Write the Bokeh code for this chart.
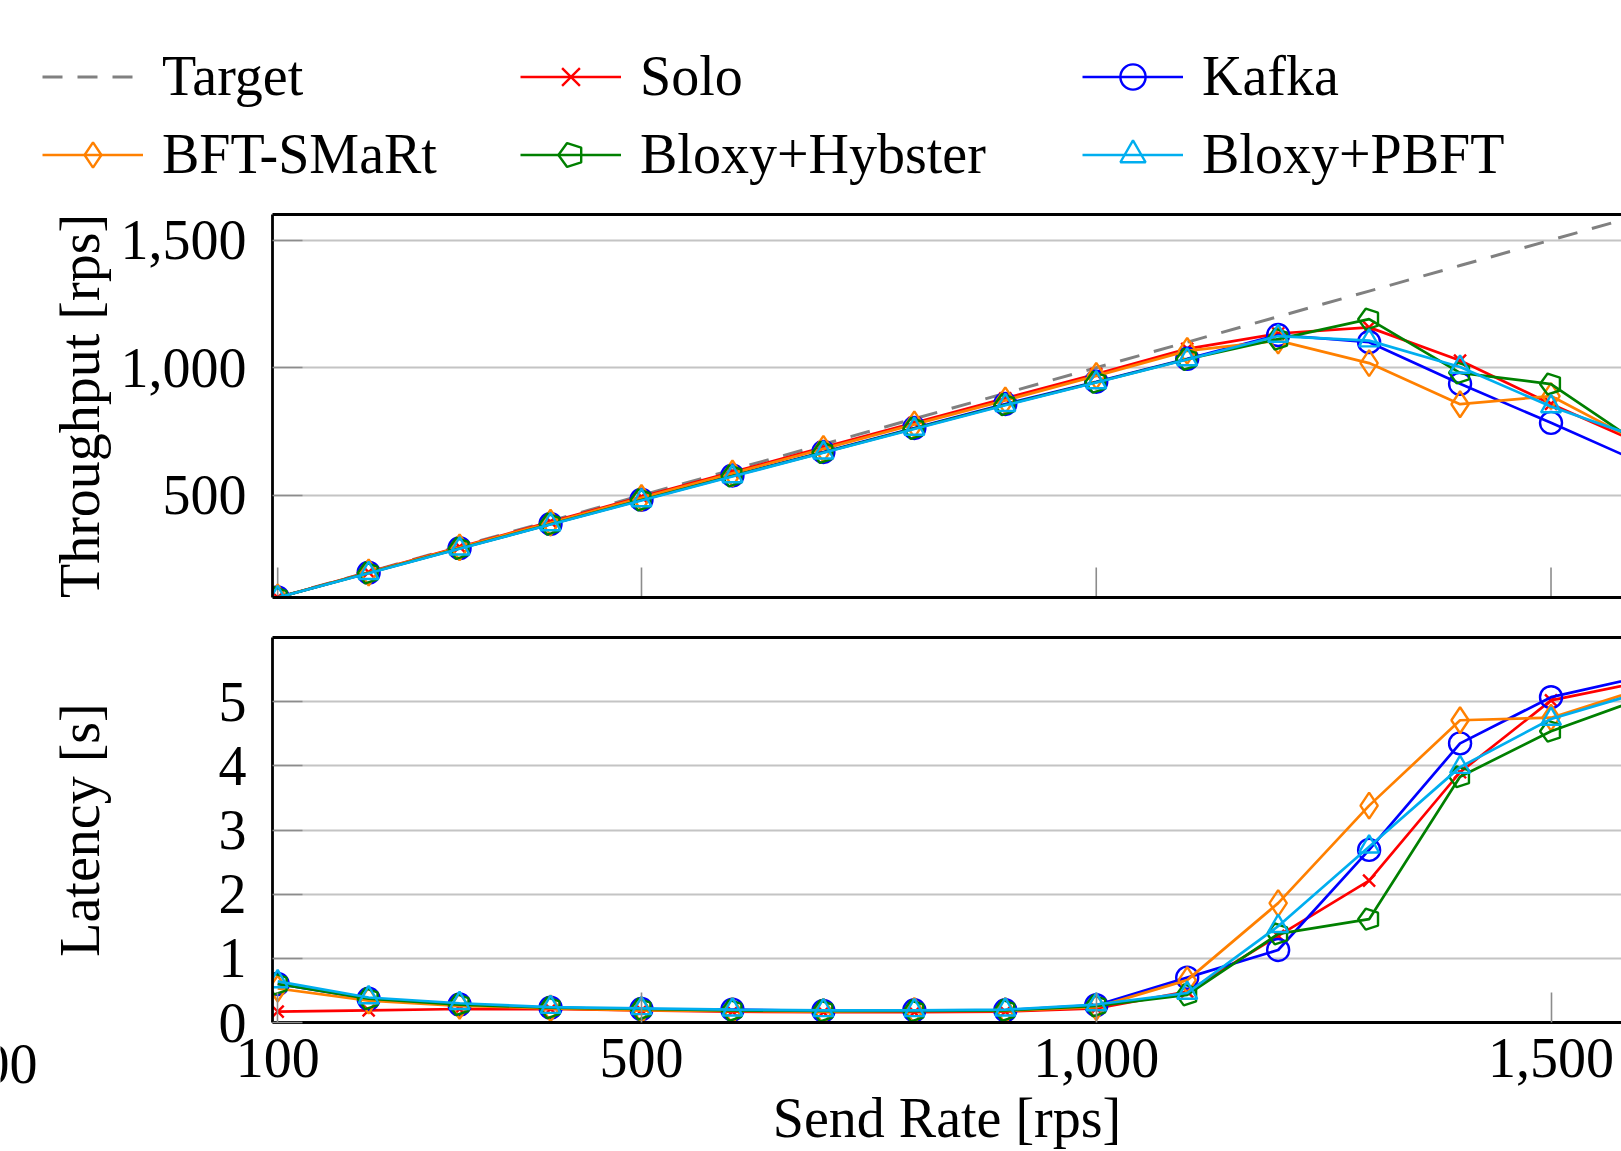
import numpy as np
from bokeh.plotting import figure
from bokeh.models import (ColumnDataSource, Range1d, FixedTicker, NumeralTickFormatter,
                          LinearAxis, Legend, LegendItem, Label)
from bokeh.layouts import column, row
from bokeh.embed import file_html
from bokeh.resources import INLINE
import bokeh.models as bm

# ---------------- data ----------------
send_rate = [100, 200, 300, 400, 500, 600, 700, 800, 900, 1000, 1100, 1200, 1300, 1400, 1500, 1600]
target    = [100, 200, 300, 400, 500, 600, 700, 800, 900, 1000, 1100, 1200, 1300, 1400, 1500, 1600]

tp_solo    = [100, 199, 298, 396, 494, 591, 688, 784, 880, 975, 1074, 1134, 1158, 1028, 858, 700]
tp_kafka   = [100, 197, 293, 388, 483, 578, 670, 764, 858, 945, 1035, 1128, 1100, 937, 784, 626]
tp_bft     = [100, 198, 296, 393, 490, 586, 682, 778, 872, 968, 1066, 1106, 1018, 857, 889, 702]
tp_hybster = [100, 196, 292, 387, 482, 576, 668, 762, 855, 943, 1033, 1112, 1190, 980, 936, 695]
tp_pbft    = [100, 195, 291, 386, 480, 574, 667, 760, 853, 942, 1032, 1124, 1106, 1003, 848, 722]

lat_solo    = [0.17, 0.19, 0.21, 0.21, 0.19, 0.17, 0.16, 0.16, 0.17, 0.22, 0.48, 1.35, 2.21, 3.90, 5.02, 5.31]
lat_kafka   = [0.60, 0.37, 0.28, 0.23, 0.21, 0.20, 0.18, 0.19, 0.19, 0.27, 0.70, 1.13, 2.69, 4.35, 5.07, 5.39]
lat_bft     = [0.53, 0.34, 0.26, 0.22, 0.19, 0.18, 0.17, 0.18, 0.18, 0.24, 0.66, 1.86, 3.38, 4.71, 4.75, 5.20]
lat_hybster = [0.60, 0.37, 0.28, 0.23, 0.21, 0.19, 0.18, 0.18, 0.19, 0.26, 0.43, 1.38, 1.61, 3.83, 4.54, 5.05]
lat_pbft    = [0.64, 0.39, 0.30, 0.24, 0.22, 0.20, 0.19, 0.19, 0.20, 0.28, 0.46, 1.50, 2.74, 3.98, 4.73, 5.15]

series_names = ["Solo", "Kafka", "BFT-SMaRt", "Bloxy+Hybster", "Bloxy+PBFT"]
x_ticks = [100, 500, 1000, 1500]
tp_ticks = [500, 1000, 1500]
lat_ticks = [0, 1, 2, 3, 4, 5]
x_lim = (94.3, 1577.5)
tp_lim = (100, 1600)
lat_lim = (0, 6)
cut_label = "00"   # fragment of a neighbouring panel's tick label, visible at the left edge

# ---------------- style ----------------
FONT = "Liberation Serif"
FS = "56px"
W = 1621
LEG_H = 196
TOP_H = 421
BOT_H = 1151 - LEG_H - TOP_H
CUT_W = 40
GRID = "#c4c4c4"
TICK = "#8c8c8c"
LW = 2.7
FRAME_W = 2.8

colors = {"Solo": "#ff0000", "Kafka": "#0000ff", "BFT-SMaRt": "#ff8000",
          "Bloxy+Hybster": "#008000", "Bloxy+PBFT": "#00aeef"}
markers = {"Solo": ("x", 17), "Kafka": ("circle", 22), "BFT-SMaRt": ("diamond", 26),
           "Bloxy+Hybster": ("pentagon", 11), "Bloxy+PBFT": ("triangle", 20)}

x_range = Range1d(*x_lim)


def empty_axis():
    return LinearAxis(ticker=FixedTicker(ticks=[]), axis_line_color="black",
                      axis_line_width=FRAME_W, major_tick_line_color=None,
                      minor_tick_line_color=None, major_tick_in=0, major_tick_out=0)


def style_fig(p, yticks, show_xlabels):
    p.outline_line_color = None
    p.xgrid.grid_line_color = None
    p.ygrid.grid_line_color = GRID
    p.ygrid.grid_line_width = 2
    for ax in p.xaxis:
        ax.ticker = FixedTicker(ticks=x_ticks if show_xlabels else [])
        ax.formatter = NumeralTickFormatter(format="0,0")
    for ax in p.yaxis:
        ax.ticker = FixedTicker(ticks=yticks)
        ax.formatter = NumeralTickFormatter(format="0,0")
    for ax in list(p.xaxis) + list(p.yaxis):
        ax.axis_line_color = "black"
        ax.axis_line_width = FRAME_W
        ax.major_tick_in = 30
        ax.major_tick_out = 0
        ax.major_tick_line_color = TICK
        ax.major_tick_line_width = 1.6
        ax.minor_tick_line_color = None
        ax.major_label_text_font = FONT
        ax.major_label_text_font_size = FS
        ax.major_label_text_color = "black"
        ax.axis_label_text_font = FONT
        ax.axis_label_text_font_size = FS
        ax.axis_label_text_font_style = "normal"
        ax.axis_label_text_color = "black"
    for ax in p.yaxis:
        ax.major_label_standoff = 26
    p.add_layout(empty_axis(), "above")


def marker_renderer(p, src, name):
    c = colors[name]
    mk, sz = markers[name]
    if mk == "pentagon" and hasattr(bm, "Ngon"):
        try:
            g = bm.Ngon(x="x", y="y", radius=sz, radius_units="screen", n=5, angle=np.pi / 2,
                        fill_color=None, line_color=c, line_width=2.4)
            return p.add_glyph(src, g)
        except Exception:
            pass
    m = "hex" if mk == "pentagon" else mk
    s = 2 * sz if mk == "pentagon" else sz
    return p.scatter("x", "y", source=src, marker=m, size=s, fill_color=None,
                     line_color=c, line_width=2.4)


def add_series(p, src, name):
    ln = p.line("x", "y", source=src, line_color=colors[name], line_width=LW)
    mr = marker_renderer(p, src, name)
    return [ln, mr]


tp_src = {n: ColumnDataSource(dict(x=send_rate, y=ys)) for n, ys in
          zip(series_names, [tp_solo, tp_kafka, tp_bft, tp_hybster, tp_pbft])}
lat_src = {n: ColumnDataSource(dict(x=send_rate, y=ys)) for n, ys in
           zip(series_names, [lat_solo, lat_kafka, lat_bft, lat_hybster, lat_pbft])}
tgt_src = ColumnDataSource(dict(x=send_rate, y=target))

# ---------------- legend strip ----------------
# same sources as the plots; the strip's ranges keep the data itself out of view
leg = figure(width=W, height=LEG_H, x_range=Range1d(0, 1), y_range=Range1d(0, 1),
             output_backend="svg", toolbar_location=None, x_axis_location=None,
             y_axis_location=None, min_border=0)
leg.outline_line_color = None
leg.grid.visible = False
leg_r = {"Target": [leg.line("x", "y", source=tgt_src, line_color="#808080", line_width=3,
                             line_dash="20 15")]}
for name in series_names:
    leg_r[name] = add_series(leg, tp_src[name], name)

legend_columns = [["Target", "BFT-SMaRt"], ["Solo", "Bloxy+Hybster"], ["Kafka", "Bloxy+PBFT"]]
legend_x = [42, 520, 1082]
for names, vx in zip(legend_columns, legend_x):
    lg = Legend(items=[LegendItem(label=n, renderers=leg_r[n]) for n in names],
                location=(vx, 10), orientation="vertical", padding=0, margin=0, spacing=14,
                glyph_width=101, glyph_height=63, label_height=63, label_standoff=19,
                label_text_font=FONT, label_text_font_size=FS, label_text_color="black",
                border_line_color=None, background_fill_alpha=0)
    leg.add_layout(lg, "center")

# ---------------- top: throughput ----------------
top = figure(width=W, height=TOP_H, x_range=x_range, y_range=Range1d(*tp_lim),
             output_backend="svg", toolbar_location=None,
             min_border_left=272, min_border_right=0, min_border_top=18, min_border_bottom=20)
top.yaxis.axis_label = "Throughput [rps]"
style_fig(top, tp_ticks, False)
top.yaxis.axis_label_standoff = 7
# x tick marks of the upper panel (pointing inward from the lower frame edge)
top.scatter(x=x_ticks, y=[tp_lim[0]] * len(x_ticks), marker="dash", size=60, angle=np.pi / 2,
            line_color=TICK, line_width=1.6)
top.line("x", "y", source=tgt_src, line_color="#808080", line_width=3, line_dash="20 15")
for name in series_names:
    add_series(top, tp_src[name], name)

# ---------------- bottom: latency ----------------
bot = figure(width=W - CUT_W, height=BOT_H, x_range=x_range, y_range=Range1d(*lat_lim),
             output_backend="svg", toolbar_location=None,
             min_border_left=272 - CUT_W, min_border_right=0, min_border_top=20, min_border_bottom=0)
bot.yaxis.axis_label = "Latency [s]"
bot.xaxis.axis_label = "Send Rate [rps]"
style_fig(bot, lat_ticks, True)
bot.yaxis.axis_label_standoff = 105
bot.xaxis.major_label_standoff = 16
bot.xaxis.axis_label_standoff = 7
for name in series_names:
    add_series(bot, lat_src[name], name)

# narrow strip at the lower left holding the cut-off neighbouring tick label
cut = figure(width=CUT_W, height=BOT_H, x_range=Range1d(0, CUT_W), y_range=Range1d(0, BOT_H),
             output_backend="svg", toolbar_location=None, x_axis_location=None,
             y_axis_location=None, min_border=0)
cut.outline_line_color = None
cut.grid.visible = False
cut.add_layout(Label(x=37, y=BOT_H - 446.5, text=cut_label, text_align="right",
                     text_baseline="middle", text_font=FONT, text_font_size=FS,
                     text_color="black"))

layout = column(row(leg), top, row(column(cut), bot, spacing=0), spacing=0)
open("out.html", "w").write(file_html(layout, INLINE))
